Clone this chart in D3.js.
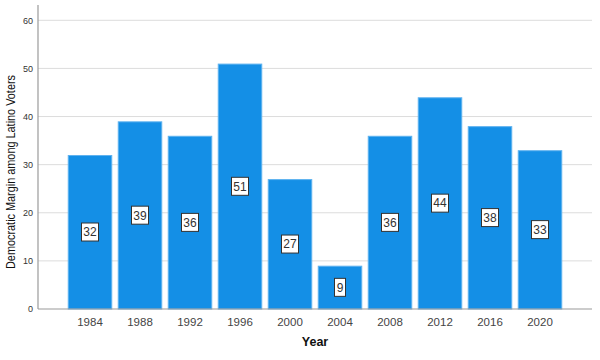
<!DOCTYPE html>
<html><head><meta charset="utf-8">
<script src="https://cdn.jsdelivr.net/npm/d3@7"></script>
<style>body{margin:0;background:#fff;}svg{display:block;font-family:"Liberation Sans",Arial,sans-serif;}</style>
</head><body>
<svg id="c" width="600" height="360"></svg>
<script>
const years = ["1984","1988","1992","1996","2000","2004","2008","2012","2016","2020"];
const margins = [32,39,36,51,27,9,36,44,38,33];
const yTicks = [0,10,20,30,40,50,60];

const svg = d3.select("#c");
const L = 38, R = 592, T = 5, B = 309;
const x = d3.scaleBand().domain(years).range([L,R]).paddingInner(0.11).paddingOuter(0.595);
const y = d3.scaleLinear().domain([0,60]).range([B,20.3]);

// gridlines
svg.append("g").selectAll("line").data(yTicks.filter(d=>d>0)).join("line")
  .attr("x1",L).attr("x2",R).attr("y1",d=>y(d)).attr("y2",d=>y(d))
  .attr("stroke","#dcdcdc").attr("stroke-width",1);

// bars
svg.append("g").selectAll("rect").data(years).join("rect")
  .attr("x",d=>x(d)+0.5).attr("width",x.bandwidth()-1)
  .attr("y",(d,i)=>y(margins[i])+0.5).attr("height",(d,i)=>B-y(margins[i])-0.5)
  .attr("fill","#148fe6").attr("stroke","#5eb2ef").attr("stroke-width",1);

// y axis
const ya = d3.axisLeft(y).tickValues(yTicks).tickSize(0).tickPadding(5);
const gy = svg.append("g").attr("transform",`translate(${L},0)`).call(ya);
gy.select(".domain").remove();
gy.selectAll("text").attr("font-size",9).attr("fill","#333").attr("font-family","Liberation Sans, Arial, sans-serif");
svg.append("line").attr("x1",L).attr("x2",L).attr("y1",T).attr("y2",B).attr("stroke","#9a9a9a").attr("stroke-width",1.2);

// x axis
const xa = d3.axisBottom(x).tickSize(0).tickPadding(9);
const gx = svg.append("g").attr("transform",`translate(0,${B})`).call(xa);
gx.select(".domain").remove();
gx.selectAll("text").attr("font-size",11.5).attr("fill","#444").attr("font-family","Liberation Sans, Arial, sans-serif");
svg.append("line").attr("x1",L).attr("x2",R).attr("y1",B).attr("y2",B).attr("stroke","#9a9a9a").attr("stroke-width",1.2);

// value labels
const lab = svg.append("g").selectAll("g").data(years).join("g")
  .attr("transform",(d,i)=>`translate(${x(d)+x.bandwidth()/2},${y(margins[i]/2)})`);
lab.append("rect").attr("x",(d,i)=>margins[i]>=10?-8.5:-5.5).attr("width",(d,i)=>margins[i]>=10?17:11)
  .attr("y",-9).attr("height",18).attr("fill","#fff").attr("stroke","#333").attr("stroke-width",1);
lab.append("text").attr("text-anchor","middle").attr("dy","0.36em").attr("font-size",12).attr("fill","#333")
  .text((d,i)=>margins[i]);

// titles
svg.append("text").attr("x",315).attr("y",346).attr("text-anchor","middle").attr("font-size",12.5)
  .attr("font-weight","bold").attr("fill","#111").text("Year");
svg.append("text").attr("transform","translate(15,172) rotate(-90)").attr("text-anchor","middle")
  .attr("font-size",12.5).attr("fill","#111")
  .attr("textLength",194).attr("lengthAdjust","spacingAndGlyphs")
  .text("Democratic Margin among Latino Voters");
</script>
</body></html>
